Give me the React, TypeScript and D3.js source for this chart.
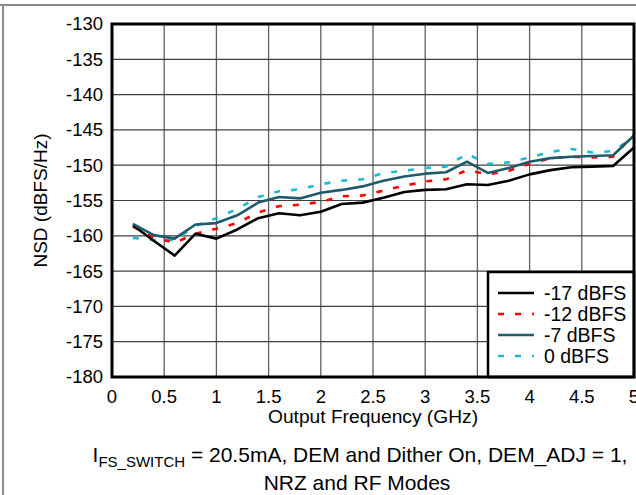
import React from "react";
import * as d3 from "d3";

const freqGHz = [0.2, 0.4, 0.6, 0.8, 1.0, 1.2, 1.4, 1.6, 1.8, 2.0, 2.2, 2.4, 2.6, 2.8, 3.0, 3.2, 3.4, 3.6, 3.8, 4.0, 4.2, 4.4, 4.6, 4.8, 5.0];
const nsdM17 = [-158.5, -160.7, -162.8, -159.7, -160.4, -159.1, -157.5, -156.8, -157.1, -156.6, -155.5, -155.3, -154.6, -153.8, -153.5, -153.4, -152.7, -152.8, -152.2, -151.3, -150.7, -150.3, -150.2, -150.1, -147.5];
const nsdM12 = [-158.7, -160.2, -161.0, -159.7, -159.0, -158.2, -156.7, -155.8, -155.6, -155.2, -154.4, -154.3, -153.6, -152.9, -152.3, -152.0, -150.7, -151.3, -150.8, -149.8, -149.0, -148.8, -148.9, -148.8, -145.6];
const nsdM7 = [-158.3, -159.9, -160.4, -158.4, -158.2, -157.1, -155.3, -154.5, -154.7, -153.9, -153.5, -153.0, -152.2, -151.6, -151.2, -151.0, -149.5, -151.1, -150.4, -149.5, -149.0, -148.8, -148.7, -148.6, -145.8];
const nsd0 = [-160.3, -160.6, -160.6, -158.6, -157.5, -156.2, -154.5, -153.7, -153.4, -152.7, -152.2, -152.0, -151.1, -150.8, -150.4, -150.2, -148.4, -149.8, -149.6, -148.9, -148.1, -147.7, -148.2, -148.0, -146.0];

const seriesNames = ["-17 dBFS", "-12 dBFS", "-7 dBFS", "0 dBFS"];
const xTicks = [0, 0.5, 1, 1.5, 2, 2.5, 3, 3.5, 4, 4.5, 5];
const yTicks = [-130, -135, -140, -145, -150, -155, -160, -165, -170, -175, -180];

const W = 636;
const H = 495;
const left = 112;
const right = 634;
const top = 24;
const bottom = 377;
const FONT = "'Liberation Sans', Arial, sans-serif";

export default function App() {
  const x = d3.scaleLinear().domain([0, 5]).range([left, right]);
  const y = d3.scaleLinear().domain([-180, -130]).range([bottom, top]);
  const line = d3
    .line<number>()
    .x((_, i) => x(freqGHz[i]))
    .y((d) => y(d));

  const series = [
    { name: seriesNames[0], values: nsdM17, color: "#000000", dash: undefined as string | undefined },
    { name: seriesNames[1], values: nsdM12, color: "#ff0000", dash: "6,11" },
    { name: seriesNames[2], values: nsdM7, color: "#1e5c6b", dash: undefined },
    { name: seriesNames[3], values: nsd0, color: "#1fb9d0", dash: "6,11" },
  ];
  const drawOrder = [3, 1, 0, 2];

  const legX = 488;
  const legY = 272;
  const rowY = [293, 314, 335, 356];

  return (
    <svg
      width={W}
      height={H}
      style={{ position: "absolute", left: 0, top: 0, background: "#fff" }}
      fontFamily={FONT}
    >
      <rect x={0} y={0} width={W} height={H} fill="#fff" />
      {/* frame */}
      <line x1={0} x2={W} y1={5} y2={5} stroke="#8a8a8a" strokeWidth={2} />
      <line x1={3} x2={3} y1={5} y2={H} stroke="#8a8a8a" strokeWidth={2} />

      {/* grid */}
      {xTicks.map((t) => (
        <line key={"gx" + t} x1={x(t)} x2={x(t)} y1={top} y2={bottom} stroke="#606060" strokeWidth={1.3} />
      ))}
      {yTicks.map((t) => (
        <line key={"gy" + t} x1={left} x2={right} y1={y(t)} y2={y(t)} stroke="#404040" strokeWidth={1.2} />
      ))}

      {/* series */}
      {drawOrder.map((k) => {
        const s = series[k];
        return (
          <path
            key={s.name}
            d={line(s.values) || ""}
            fill="none"
            stroke={s.color}
            strokeWidth={2.6}
            strokeDasharray={s.dash}
            strokeLinejoin="round"
          />
        );
      })}

      {/* legend */}
      <rect x={legX} y={legY} width={right - legX} height={bottom - legY} fill="#fff" stroke="#000" strokeWidth={2.5} />
      {series.map((s, i) => (
        <g key={"leg" + s.name}>
          <line x1={498} x2={534} y1={rowY[i]} y2={rowY[i]} stroke={s.color} strokeWidth={2.6} strokeDasharray={s.dash} />
          <text x={544} y={rowY[i]} dy="0.35em" fontSize={19.5} fill="#000">
            {s.name}
          </text>
        </g>
      ))}

      {/* plot border */}
      <rect x={left} y={top} width={right - left} height={bottom - top} fill="none" stroke="#000" strokeWidth={3} />

      {/* y ticks */}
      {yTicks.map((t) => (
        <text key={"ty" + t} x={103} y={y(t)} dy="0.35em" textAnchor="end" fontSize={18.5} fill="#000">
          {t}
        </text>
      ))}
      {/* x ticks */}
      {xTicks.map((t) => (
        <text key={"tx" + t} x={x(t)} y={397} dy="0.35em" textAnchor="middle" fontSize={18.5} fill="#000">
          {t}
        </text>
      ))}

      {/* axis titles */}
      <text x={(left + right) / 2} y={416} dy="0.35em" textAnchor="middle" fontSize={19.2} fill="#000">
        Output Frequency (GHz)
      </text>
      <text
        transform={`translate(40,${(top + bottom) / 2}) rotate(-90)`}
        dy="0.35em"
        textAnchor="middle"
        fontSize={19}
        fill="#000"
      >
        NSD (dBFS/Hz)
      </text>

      {/* caption */}
      <text x={360} y={455} dy="0.35em" textAnchor="middle" fontSize={21} fill="#000">
        I
        <tspan fontSize={15} dy={5}>FS_SWITCH</tspan>
        <tspan dy={-5}> = 20.5mA, DEM and Dither On, DEM_ADJ = 1,</tspan>
      </text>
      <text x={357} y={483} dy="0.35em" textAnchor="middle" fontSize={21} fill="#000">
        NRZ and RF Modes
      </text>
    </svg>
  );
}
